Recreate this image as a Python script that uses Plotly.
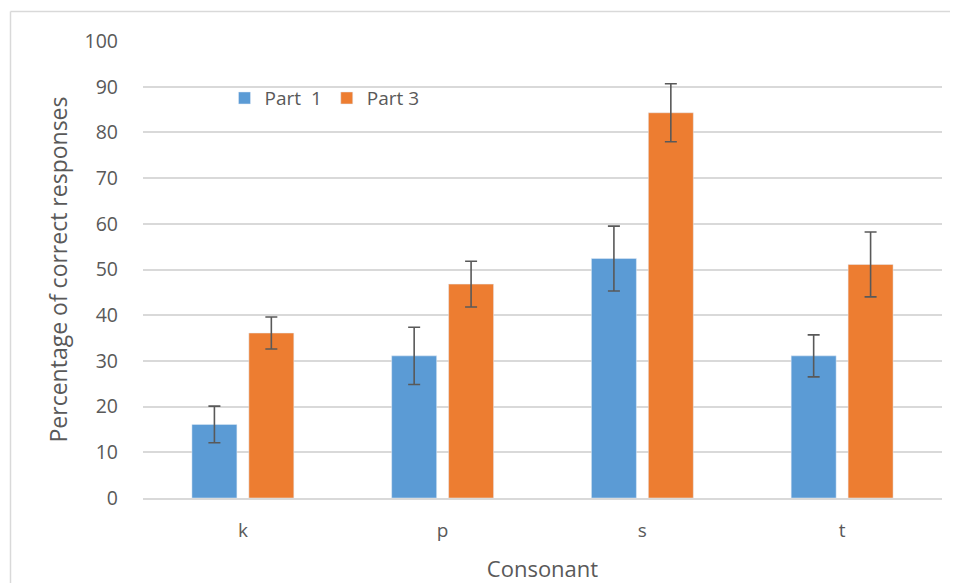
import plotly.graph_objects as go

categories = ["k", "p", "s", "t"]
part1_values = [16.1, 31.1, 52.4, 31.1]
part1_errors = [4.0, 6.25, 7.1, 4.6]
part3_values = [36.1, 46.8, 84.3, 51.1]
part3_errors = [3.5, 5.0, 6.35, 7.1]
series_names = ["Part \u00a01", "Part 3"]
y_ticks = list(range(0, 101, 10))

FONT = "Open Sans, Liberation Sans, sans-serif"
TXT = "#595959"

# page has an 8px body offset; the figure is sized so the plot area lands at x 143-942, y 41-498
W, H = 950, 575
L, R, T, B = 135, 16, 33, 85
PW = W - L - R
PH = H - T - B

fig = go.Figure()
fig.add_trace(go.Bar(
    x=categories, y=part1_values, name=series_names[0],
    marker=dict(color="#5B9BD5"),
    error_y=dict(type="data", array=part1_errors, color="#595959", thickness=1.6, width=6),
))
fig.add_trace(go.Bar(
    x=categories, y=part3_values, name=series_names[1],
    marker=dict(color="#ED7D31"),
    error_y=dict(type="data", array=part3_errors, color="#595959", thickness=1.6, width=6),
))

fig.update_layout(
    width=W, height=H,
    margin=dict(l=L, r=R, t=T, b=B),
    paper_bgcolor="white", plot_bgcolor="white",
    barmode="group", bargap=0.43, bargroupgap=0.21,
    font=dict(family=FONT, color=TXT, size=19),
    showlegend=True,
    legend=dict(
        orientation="h", x=0.102, y=0.875, xanchor="left", yanchor="middle",
        font=dict(family=FONT, size=19, color=TXT),
        bgcolor="rgba(0,0,0,0)", itemwidth=30, traceorder="normal",
    ),
    xaxis=dict(
        showgrid=False, showline=True, linecolor="#D9D9D9", linewidth=1.5,
        ticks="", ticklabelstandoff=14,
        tickfont=dict(size=19),
        title=dict(text="Consonant", font=dict(family=FONT, size=22, color=TXT), standoff=21),
        automargin=False,
    ),
    yaxis=dict(
        range=[0, 100], tickvals=y_ticks, showgrid=True, gridcolor="#D9D9D9", gridwidth=1.5,
        zeroline=False, showline=False, ticks="", ticklabelstandoff=24,
        tickfont=dict(size=19.5),
        title=dict(text="Percentage of correct responses", font=dict(family=FONT, size=23, color=TXT), standoff=10),
        automargin=False,
    ),
    shapes=[
        dict(type="line", xref="paper", yref="paper", x0=(2.5 - L) / PW, x1=(W + 5 - L) / PW,
             y0=(H - B - 3.5) / PH, y1=(H - B - 3.5) / PH, line=dict(color="#D9D9D9", width=1.5)),
        dict(type="line", xref="paper", yref="paper", x0=(2.5 - L) / PW, x1=(2.5 - L) / PW,
             y0=(H - B - 3.5) / PH, y1=-(B + 10) / PH, line=dict(color="#D9D9D9", width=1.5)),
    ],
)

fig.write_html("out.html")
